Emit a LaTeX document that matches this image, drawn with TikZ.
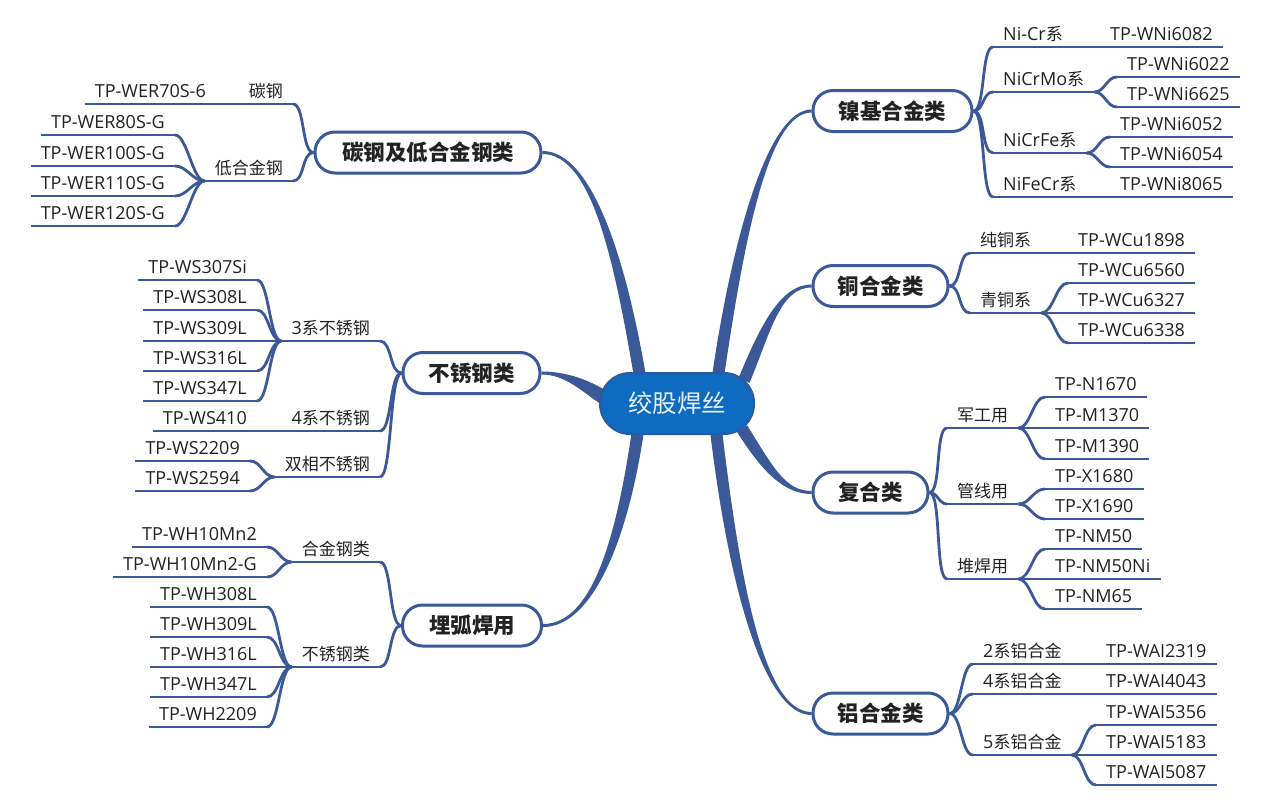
\documentclass[tikz,border=0pt]{standalone}
\usepackage{fontspec}
\newfontfamily\cjk{Noto Sans CJK SC}
\newfontfamily\lat{Open Sans}
\usetikzlibrary{calc}
\definecolor{lb}{RGB}{59,89,152}
\definecolor{cfill}{RGB}{14,107,192}
\definecolor{cdraw}{RGB}{44,90,160}
\definecolor{txt}{RGB}{34,34,34}
\newcommand\la[1]{{\lat\fontsize{18}{20}\selectfont #1}}
\pgfdeclarelayer{bg}\pgfsetlayers{bg,main}
\newcommand\taper[6]{%
  \path #1 coordinate (tS) #2 coordinate (tA) #3 coordinate (tB) #4 coordinate (tE);
  \path ($(tS)!#5!90:(tA)$) coordinate (tS1) ($(tS)!#5!-90:(tA)$) coordinate (tS2)
        ($(tE)!#6!-90:(tB)$) coordinate (tE1) ($(tE)!#6!90:(tB)$) coordinate (tE2);
  \fill[lb] (tS1) .. controls ($(tA)+(tS1)-(tS)$) and ($(tB)+(tE1)-(tE)$) .. (tE1)
     -- (tE2) .. controls ($(tB)+(tE2)-(tE)$) and ($(tA)+(tS2)-(tS)$) .. (tS2) -- cycle;
}
\begin{document}
\begin{tikzpicture}[x=1pt,y=-1pt,
  ln/.style={draw=lb, line width=2.8pt},
  ul/.style={append after command={(\tikzlastnode.south west) edge[ln] (\tikzlastnode.south east)}},
  base/.style={inner xsep=10pt, inner ysep=2pt, text height=13pt, text depth=4pt, text=txt, ul},
  lf/.style={base, font=\lat\fontsize{18}{20}\selectfont, anchor=south west},
  lfl/.style={lf, anchor=south east},
  lab/.style={base, font=\cjk\fontsize{17}{20}\selectfont, anchor=south west},
  labl/.style={lab, anchor=south east},
  mn/.style={draw=lb, line width=3pt, fill=white, rounded corners=20pt, minimum height=41pt, inner sep=0pt,
     font=\cjk\bfseries\fontsize{21.5}{24}\selectfont, text=txt},
  cv/.style={ln, out=0, in=180, max distance=12pt},
  cvl/.style={ln, out=180, in=0, max distance=12pt}]
\useasboundingbox (0,0) rectangle (1273,808);

% centre
\node[draw=cdraw, line width=2pt, fill=cfill, rounded corners=30pt, minimum width=154pt, minimum height=61pt,
  inner sep=0pt, font=\cjk\fontsize{24.5}{28}\selectfont, text=white!90!cfill] (ctr) at (677,403.5) {绞股焊丝};

% main branch nodes
\node[mn, minimum width=226pt] (m1) at (428,152.5) {碳钢及低合金钢类};
\node[mn, minimum width=137pt] (m2) at (471.5,373) {不锈钢类};
\node[mn, minimum width=139pt] (m3) at (472,625.5) {埋弧焊用};
\node[mn, minimum width=159pt] (n1) at (892.5,111) {镍基合金类};
\node[mn, minimum width=135pt] (n2) at (880.5,286) {铜合金类};
\node[mn, minimum width=115pt] (n3) at (870.5,492.5) {复合类};
\node[mn, minimum width=135pt] (n4) at (880.5,713.5) {铝合金类};

\begin{pgfonlayer}{bg}
\fill[white] (0,0) rectangle (1273,808);
\taper{($(ctr.center)+(-37,-27)$)}{(620,260)}{(592,152.5)}{(m1.east)}{6pt}{1.5pt}
\taper{($(ctr.center)+(-72,-5)$)}{(585,385)}{(565,373)}{(m2.east)}{7pt}{1.5pt}
\taper{($(ctr.center)+(-39,27)$)}{(622,540)}{(592,625.5)}{(m3.east)}{6pt}{1.5pt}
\taper{($(ctr.center)+(41,-27)$)}{(738,240)}{(768,111)}{(n1.west)}{6pt}{1.5pt}
\taper{($(ctr.center)+(67,-23)$)}{(765,330)}{(780,286)}{(n2.west)}{6pt}{1.5pt}
\taper{($(ctr.center)+(65,25)$)}{(768,470)}{(785,492.5)}{(n3.west)}{6pt}{1.5pt}
\taper{($(ctr.center)+(39,27)$)}{(735,590)}{(765,713.5)}{(n4.west)}{6pt}{1.5pt}
\end{pgfonlayer}

% ---- 镍基合金类
\node[lab] (a1) at (993,47) {\la{Ni-Cr}系};
\node[lab] (a2) at (993,92) {\la{NiCrMo}系};
\node[lab] (a3) at (993,153) {\la{NiCrFe}系};
\node[lab] (a4) at (993,197) {\la{NiFeCr}系};
\node[lf] (a11) at (1100,47) {TP-WNi6082};
\node[lf] (a21) at (1117,77) {TP-WNi6022};
\node[lf] (a22) at (1117,107) {TP-WNi6625};
\node[lf] (a31) at (1110,137) {TP-WNi6052};
\node[lf] (a32) at (1110,167) {TP-WNi6054};
\node[lf] (a41) at (1110,197) {TP-WNi8065};
\draw[cv] (n1.east) to (a1.south west);
\draw[cv] (n1.east) to (a2.south west);
\draw[cv] (n1.east) to (a3.south west);
\draw[cv] (n1.east) to (a4.south west);
\draw[cv] (a1.south east) to (a11.south west);
\draw[cv] (a2.south east) to (a21.south west);
\draw[cv] (a2.south east) to (a22.south west);
\draw[cv] (a3.south east) to (a31.south west);
\draw[cv] (a3.south east) to (a32.south west);
\draw[cv] (a4.south east) to (a41.south west);

% ---- 铜合金类
\node[lab] (b1) at (970,253) {纯铜系};
\node[lab] (b2) at (970,313) {青铜系};
\node[lf] (b11) at (1068,253) {TP-WCu1898};
\node[lf] (b21) at (1068,283) {TP-WCu6560};
\node[lf] (b22) at (1068,313) {TP-WCu6327};
\node[lf] (b23) at (1068,343) {TP-WCu6338};
\draw[cv] (n2.east) to (b1.south west);
\draw[cv] (n2.east) to (b2.south west);
\draw[cv] (b1.south east) to (b11.south west);
\draw[cv] (b2.south east) to (b21.south west);
\draw[cv] (b2.south east) to (b22.south west);
\draw[cv] (b2.south east) to (b23.south west);

% ---- 复合类
\node[lab] (c1) at (947,428) {军工用};
\node[lab] (c2) at (947,504) {管线用};
\node[lab] (c3) at (947,579) {堆焊用};
\node[lf] (c11) at (1045,397) {TP-N1670};
\node[lf] (c12) at (1045,428) {TP-M1370};
\node[lf] (c13) at (1045,459) {TP-M1390};
\node[lf] (c21) at (1045,489) {TP-X1680};
\node[lf] (c22) at (1045,519) {TP-X1690};
\node[lf] (c31) at (1045,549) {TP-NM50};
\node[lf] (c32) at (1045,579) {TP-NM50Ni};
\node[lf] (c33) at (1045,609) {TP-NM65};
\draw[cv] (n3.east) to (c1.south west);
\draw[cv] (n3.east) to (c2.south west);
\draw[cv] (n3.east) to (c3.south west);
\draw[cv] (c1.south east) to (c11.south west);
\draw[cv] (c1.south east) to (c12.south west);
\draw[cv] (c1.south east) to (c13.south west);
\draw[cv] (c2.south east) to (c21.south west);
\draw[cv] (c2.south east) to (c22.south west);
\draw[cv] (c3.south east) to (c31.south west);
\draw[cv] (c3.south east) to (c32.south west);
\draw[cv] (c3.south east) to (c33.south west);

% ---- 铝合金类
\node[lab] (d1) at (973,664) {\la{2}系铝合金};
\node[lab] (d2) at (973,694) {\la{4}系铝合金};
\node[lab] (d3) at (973,755) {\la{5}系铝合金};
\node[lf] (d11) at (1096,664) {TP-WAI2319};
\node[lf] (d21) at (1096,694) {TP-WAI4043};
\node[lf] (d31) at (1096,725) {TP-WAI5356};
\node[lf] (d32) at (1096,755) {TP-WAI5183};
\node[lf] (d33) at (1096,785) {TP-WAI5087};
\draw[cv] (n4.east) to (d1.south west);
\draw[cv] (n4.east) to (d2.south west);
\draw[cv] (n4.east) to (d3.south west);
\draw[cv] (d1.south east) to (d11.south west);
\draw[cv] (d2.south east) to (d21.south west);
\draw[cv] (d3.south east) to (d31.south west);
\draw[cv] (d3.south east) to (d32.south west);
\draw[cv] (d3.south east) to (d33.south west);

% ---- 碳钢及低合金钢类
\node[labl] (e1) at (293,104) {碳钢};
\node[labl] (e2) at (293,181) {低合金钢};
\node[lfl] (e11) at (216,104) {TP-WER70S-6};
\node[lfl] (e21) at (175,135) {TP-WER80S-G};
\node[lfl] (e22) at (175,166) {TP-WER100S-G};
\node[lfl] (e23) at (175,196) {TP-WER110S-G};
\node[lfl] (e24) at (175,226) {TP-WER120S-G};
\draw[cvl] (m1.west) to (e1.south east);
\draw[cvl] (m1.west) to (e2.south east);
\draw[cvl] (e1.south west) to (e11.south east);
\draw[cvl] (e2.south west) to (e21.south east);
\draw[cvl] (e2.south west) to (e22.south east);
\draw[cvl] (e2.south west) to (e23.south east);
\draw[cvl] (e2.south west) to (e24.south east);

% ---- 不锈钢类
\node[labl] (f1) at (380,341) {\la{3}系不锈钢};
\node[labl] (f2) at (380,431) {\la{4}系不锈钢};
\node[labl] (f3) at (380,477) {双相不锈钢};
\node[lfl] (f11) at (257,280) {TP-WS307Si};
\node[lfl] (f12) at (257,310) {TP-WS308L};
\node[lfl] (f13) at (257,341) {TP-WS309L};
\node[lfl] (f14) at (257,371) {TP-WS316L};
\node[lfl] (f15) at (257,401) {TP-WS347L};
\node[lfl] (f21) at (257,431) {TP-WS410};
\node[lfl] (f31) at (250,461) {TP-WS2209};
\node[lfl] (f32) at (250,491) {TP-WS2594};
\draw[cvl] (m2.west) to (f1.south east);
\draw[cvl] (m2.west) to (f2.south east);
\draw[cvl] (m2.west) to (f3.south east);
\draw[cvl] (f1.south west) to (f11.south east);
\draw[cvl] (f1.south west) to (f12.south east);
\draw[cvl] (f1.south west) to (f13.south east);
\draw[cvl] (f1.south west) to (f14.south east);
\draw[cvl] (f1.south west) to (f15.south east);
\draw[cvl] (f2.south west) to (f21.south east);
\draw[cvl] (f3.south west) to (f31.south east);
\draw[cvl] (f3.south west) to (f32.south east);

% ---- 埋弧焊用
\node[labl] (g1) at (380,562) {合金钢类};
\node[labl] (g2) at (380,667) {不锈钢类};
\node[lfl] (g11) at (267,547) {TP-WH10Mn2};
\node[lfl] (g12) at (267,577) {TP-WH10Mn2-G};
\node[lfl] (g21) at (267,607) {TP-WH308L};
\node[lfl] (g22) at (267,637) {TP-WH309L};
\node[lfl] (g23) at (267,667) {TP-WH316L};
\node[lfl] (g24) at (267,697) {TP-WH347L};
\node[lfl] (g25) at (267,727) {TP-WH2209};
\draw[cvl] (m3.west) to (g1.south east);
\draw[cvl] (m3.west) to (g2.south east);
\draw[cvl] (g1.south west) to (g11.south east);
\draw[cvl] (g1.south west) to (g12.south east);
\draw[cvl] (g2.south west) to (g21.south east);
\draw[cvl] (g2.south west) to (g22.south east);
\draw[cvl] (g2.south west) to (g23.south east);
\draw[cvl] (g2.south west) to (g24.south east);
\draw[cvl] (g2.south west) to (g25.south east);
\end{tikzpicture}
\end{document}
